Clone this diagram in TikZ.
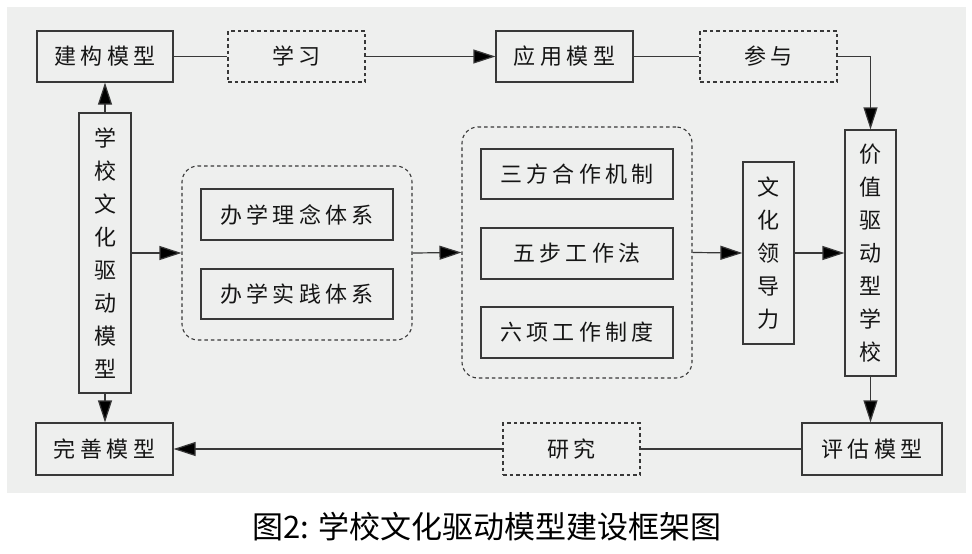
\documentclass[tikz,border=0pt]{standalone}
\usepackage{fontspec}
\setmainfont{Noto Sans CJK SC}
\newfontfamily\boxfont[LetterSpace=20]{Noto Sans CJK SC}
\newfontfamily\capfont{Noto Sans CJK SC}
\usetikzlibrary{arrows.meta}
\definecolor{bggray}{HTML}{EEEFEE}
\definecolor{linegray}{HTML}{383838}
\definecolor{txt}{HTML}{151515}
\tikzset{
  solidbox/.style={draw=linegray, line width=1.2pt, fill=bggray, text=txt, inner sep=0pt,
    font=\boxfont\fontsize{22}{33}\selectfont},
  dashbox/.style={solidbox, dash pattern=on 3.5pt off 3pt},
  groupbox/.style={draw=linegray, line width=1.1pt, dash pattern=on 3.5pt off 3pt, rounded corners=16pt, inner sep=0pt},
  vbox/.style={solidbox, align=center, font=\capfont\fontsize{22}{33}\selectfont},
  conn/.style={draw=linegray, line width=1.2pt},
  arr/.style={conn, -{Triangle[length=22pt,width=14pt,fill=black]}}
}
\begin{document}
\begin{tikzpicture}[x=1pt,y=-1pt]
\useasboundingbox (0,0) rectangle (972,554);
\fill[white] (0,0) rectangle (972,554);
\fill[bggray] (7,7) rectangle (966,493);
% top row
\node[solidbox, minimum width=136pt, minimum height=51pt] (jg) at (105,56.5) {建构模型};
\node[dashbox, minimum width=137pt, minimum height=51pt] (xx) at (296.5,56.5) {学习};
\node[solidbox, minimum width=137pt, minimum height=51pt] (yy) at (564.5,56.5) {应用模型};
\node[dashbox, minimum width=137pt, minimum height=51pt] (cy) at (768.5,56.5) {参与};
% bottom row
\node[solidbox, minimum width=137pt, minimum height=52pt] (ws) at (104.5,449) {完善模型};
\node[dashbox, minimum width=137pt, minimum height=52pt] (yj) at (571.5,449) {研究};
\node[solidbox, minimum width=140pt, minimum height=52pt] (pg) at (872,449) {评估模型};
% vertical boxes
\node[vbox, minimum width=52pt, minimum height=280pt] (xm) at (105,253) {学\\校\\文\\化\\驱\\动\\模\\型};
\node[vbox, minimum width=51pt, minimum height=182pt] (wh) at (768.5,253) {文\\化\\领\\导\\力};
\node[vbox, minimum width=51pt, minimum height=246pt] (jz) at (870.5,253) {价\\值\\驱\\动\\型\\学\\校};
% groups
\node[groupbox, minimum width=230pt, minimum height=174pt] (g1) at (297,253) {};
\node[groupbox, minimum width=230pt, minimum height=251pt] (g2) at (577,252.5) {};
\node[solidbox, minimum width=192pt, minimum height=51pt] (b1) at (297,214.5) {办学理念体系};
\node[solidbox, minimum width=192pt, minimum height=50pt] (b2) at (297,294) {办学实践体系};
\node[solidbox, minimum width=192pt, minimum height=50pt] (c1) at (577,174) {三方合作机制};
\node[solidbox, minimum width=192pt, minimum height=51pt] (c2) at (577,253.5) {五步工作法};
\node[solidbox, minimum width=192pt, minimum height=51pt] (c3) at (577,332.5) {六项工作制度};
% caption
\node[font=\capfont\fontsize{31}{36}\selectfont, text=black, inner sep=0pt] (cap) at (487,527) {图2: 学校文化驱动模型建设框架图};
% connectors
\draw[conn] (jg.east) -- (xx.west);
\draw[arr] (xx.east) -- (yy.west);
\draw[conn] (yy.east) -- (cy.west);
\draw[arr] (cy.east) -| (jz.north);
\draw[arr] (jz.south) -- (jz.south |- pg.north);
\draw[conn] (pg.west) -- (yj.east);
\draw[arr] (yj.west) -- (ws.east);
\draw[arr] (xm.north) -- (xm.north |- jg.south);
\draw[arr] (xm.south) -- (xm.south |- ws.north);
\draw[arr] (xm.east) -- (g1.west);
\draw[arr] (g1.east) -- (g2.west);
\draw[arr] (g2.east) -- (wh.west);
\draw[arr] (wh.east) -- (jz.west);
\end{tikzpicture}
\end{document}
